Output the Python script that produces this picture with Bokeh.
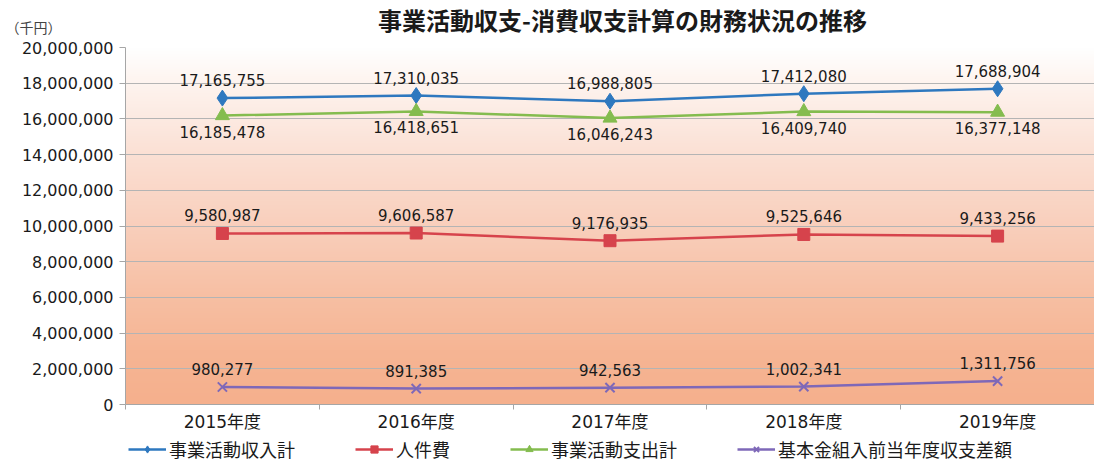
import numpy as np
from bokeh.plotting import figure
from bokeh.layouts import column
from bokeh.models import (ColumnDataSource, LabelSet, Label, Legend, LegendItem,
                          FixedTicker, NumeralTickFormatter, Range1d)
from bokeh.core.properties import value
from bokeh.embed import file_html
from bokeh.resources import INLINE

# ---- data ----
categories = ["2015年度", "2016年度", "2017年度", "2018年度", "2019年度"]
revenue = [17165755, 17310035, 16988805, 17412080, 17688904]      # 事業活動収入計
personnel = [9580987, 9606587, 9176935, 9525646, 9433256]          # 人件費
expenses = [16185478, 16418651, 16046243, 16409740, 16377148]      # 事業活動支出計
balance = [980277, 891385, 942563, 1002341, 1311756]               # 基本金組入前当年度収支差額
series_names = ["事業活動収入計", "人件費", "事業活動支出計", "基本金組入前当年度収支差額"]
y_ticks = list(range(0, 20000001, 2000000))
title_text = "事業活動収支-消費収支計算の財務状況の推移"
unit_text = "（千円）"

n = len(categories)
xs = np.arange(n) + 0.5

NUM_FONT = "DejaVu Sans, Noto Sans CJK JP"
CJK_FONT = "Noto Sans CJK JP"
W = 1094
LEFT = 125
HEAD_H, MAIN_H, LEG_H = 37, 397, 28

# ================= header strip (title + unit) =================
head = figure(width=W, height=HEAD_H, output_backend="svg", toolbar_location=None,
              x_range=Range1d(LEFT, W), y_range=Range1d(0, HEAD_H),
              x_axis_type=None, min_border=0)
head.outline_line_color = None
head.grid.visible = False
head.add_layout(Label(x=622, y=HEAD_H - 19, text=title_text, text_align="center",
                      text_baseline="middle", text_font=CJK_FONT,
                      text_font_style="bold", text_font_size="24px",
                      text_color="#1a1a1a"))
unit_tick = HEAD_H - 26
head.yaxis.ticker = FixedTicker(ticks=[unit_tick])
head.yaxis.major_label_overrides = {float(unit_tick): unit_text}
head.yaxis.major_label_text_font = CJK_FONT
head.yaxis.major_label_text_font_size = "14px"
head.yaxis.major_label_text_color = "#444444"
head.yaxis.axis_line_color = None
head.yaxis.major_tick_line_color = None
head.yaxis.minor_tick_line_color = None
head.yaxis.major_label_standoff = 58

# ================= main chart =================
p = figure(width=W, height=MAIN_H, output_backend="svg", toolbar_location=None,
           x_range=Range1d(0, n), y_range=Range1d(0, y_ticks[-1]),
           min_border_left=LEFT, min_border_right=0, min_border_top=10,
           min_border_bottom=30)
p.outline_line_color = None
p.border_fill_color = "white"
p.background_fill_color = "white"

# background gradient (white at top -> salmon at bottom)
stops_pos = [0.0, 0.15, 0.30, 0.50, 0.70, 0.90, 1.0]   # fraction from bottom
stops_col = [(245, 176, 141), (246, 181, 148), (247, 191, 163), (249, 207, 188),
             (251, 224, 212), (254, 244, 239), (255, 255, 255)]
N = 400
fr = np.linspace(0, 1, N)
rgba = np.zeros((N, 1, 4), dtype=np.uint8)
for c in range(3):
    rgba[:, 0, c] = np.interp(fr, stops_pos, [s[c] for s in stops_col]).astype(np.uint8)
rgba[:, 0, 3] = 255
img = rgba.view(dtype=np.uint32).reshape((N, 1))
p.image_rgba(image=[img], x=0, y=0, dw=n, dh=y_ticks[-1], level="image")

# axes
p.yaxis.ticker = FixedTicker(ticks=y_ticks)
p.yaxis.formatter = NumeralTickFormatter(format="0,0")
p.yaxis.major_label_text_font = NUM_FONT
p.yaxis.major_label_text_font_size = "16px"
p.yaxis.major_label_text_color = "#1a1a1a"
p.yaxis.axis_line_color = "#a6a6a6"
p.yaxis.major_tick_line_color = "#a6a6a6"
p.yaxis.major_tick_out = 6
p.yaxis.major_tick_in = 0
p.yaxis.minor_tick_line_color = None
p.yaxis.major_label_standoff = 6

p.xaxis.ticker = FixedTicker(ticks=list(xs), minor_ticks=list(range(n + 1)))
p.xaxis.major_label_overrides = {float(v): c for v, c in zip(xs, categories)}
p.xaxis.major_label_text_font = NUM_FONT
p.xaxis.major_label_text_font_size = "17px"
p.xaxis.major_label_text_color = "#1a1a1a"
p.xaxis.axis_line_color = "#a6a6a6"
p.xaxis.major_tick_line_color = None
p.xaxis.major_tick_out = 0
p.xaxis.minor_tick_line_color = "#a6a6a6"
p.xaxis.minor_tick_out = 5
p.xaxis.minor_tick_in = 0
p.xaxis.major_label_standoff = 2

p.xgrid.grid_line_color = None
p.ygrid.ticker = FixedTicker(ticks=y_ticks)
p.ygrid.grid_line_color = "#b4b4b4"
p.ygrid.grid_line_width = 1

# series
series = [
    (revenue, "#2e78bf", "diamond", 16, 18),
    (personnel, "#d6434c", "square", 12, 18),
    (expenses, "#84bc4f", "triangle", 14, -16),
    (balance, "#7e68b8", "x", 13, 18),
]
for vals, col, mk, sz, off in series:
    src = ColumnDataSource(dict(x=xs, y=vals, t=[f"{v:,}" for v in vals]))
    p.line("x", "y", source=src, line_color=col, line_width=2.5)
    p.scatter("x", "y", source=src, marker=mk, size=sz, fill_color=col,
              line_color=col, line_width=2 if mk == "x" else 1)
    p.add_layout(LabelSet(x="x", y="y", text="t", source=src, y_offset=off,
                          text_align="center", text_baseline="middle",
                          text_font_size=value("15px"), text_font=value(NUM_FONT),
                          text_color="#1a1a1a"))

# ================= legend strip =================
leg = figure(width=W, height=LEG_H, output_backend="svg", toolbar_location=None,
             x_range=Range1d(0, 1), y_range=Range1d(0, 1),
             x_axis_type=None, y_axis_type=None, min_border=0)
leg.outline_line_color = None
leg.grid.visible = False
items = []
for (vals, col, mk, sz, off), name in zip(series, series_names):
    hidden = ColumnDataSource(dict(x=[np.nan], y=[np.nan]))
    ln = leg.line("x", "y", source=hidden, line_color=col, line_width=2.5)
    sc = leg.scatter("x", "y", source=hidden, marker=mk, size=sz * 0.6,
                     fill_color=col, line_color=col,
                     line_width=2 if mk == "x" else 1)
    items.append(LegendItem(label=name, renderers=[ln, sc]))
legend = Legend(items=items, orientation="horizontal", location=(3, 0),
                glyph_width=38, glyph_height=18, label_height=18,
                label_standoff=3, spacing=60,
                label_text_font=CJK_FONT, label_text_font_size="18px",
                label_text_color="#1a1a1a", padding=0, margin=0,
                border_line_color=None, background_fill_alpha=0)
leg.add_layout(legend)

layout = column(head, p, leg, spacing=0)
open("out.html", "w").write(file_html(layout, INLINE))
